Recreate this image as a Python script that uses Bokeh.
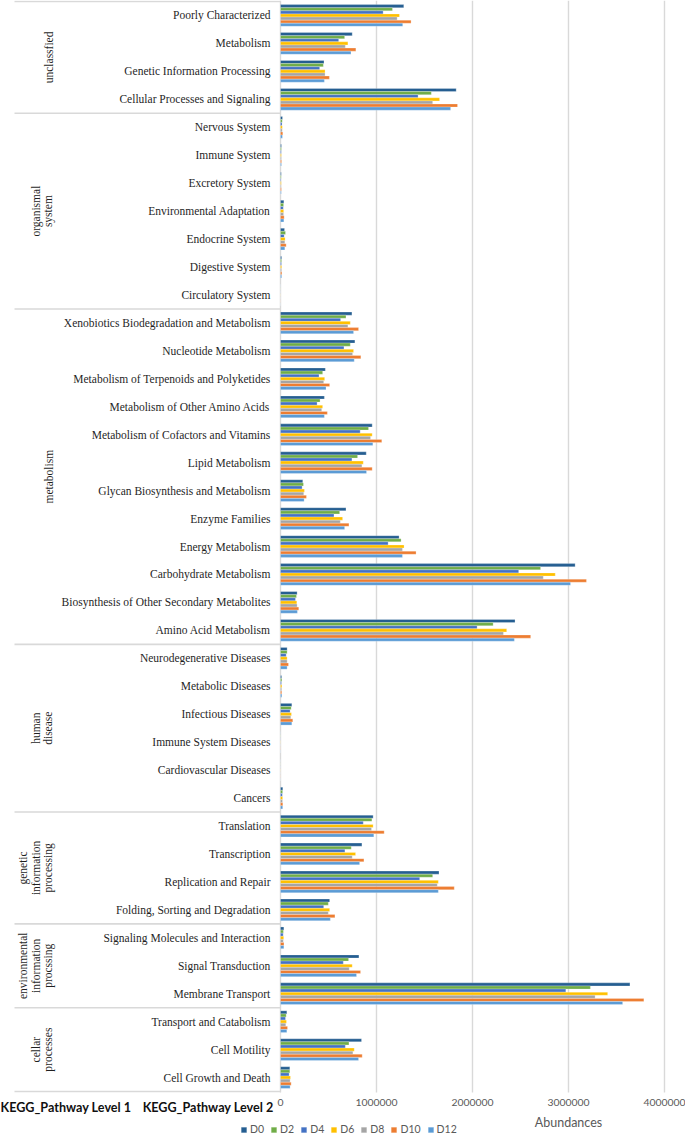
import math
from bokeh.plotting import figure
from bokeh.models import ColumnDataSource, Range1d, Legend, LegendItem
from bokeh.transform import dodge
from bokeh.core.properties import value
from bokeh.embed import file_html
from bokeh.resources import INLINE

# ---------------- data ----------------
level1 = ["unclassfied", "organismal\nsystem", "metabolism", "human\ndisease",
          "genetic\ninformation\nprocessing", "environmental\ninformation\nprocssing",
          "cellar\nprocesses"]
level1_sizes = [4, 7, 12, 6, 4, 3, 3]

categories = [
    "Poorly Characterized", "Metabolism", "Genetic Information Processing",
    "Cellular Processes and Signaling",
    "Nervous System", "Immune System", "Excretory System", "Environmental Adaptation",
    "Endocrine System", "Digestive System", "Circulatory System",
    "Xenobiotics Biodegradation and Metabolism", "Nucleotide Metabolism",
    "Metabolism of Terpenoids and Polyketides", "Metabolism of Other Amino Acids",
    "Metabolism of Cofactors and Vitamins", "Lipid Metabolism",
    "Glycan Biosynthesis and Metabolism", "Enzyme Families", "Energy Metabolism",
    "Carbohydrate Metabolism", "Biosynthesis of Other Secondary Metabolites",
    "Amino Acid Metabolism",
    "Neurodegenerative Diseases", "Metabolic Diseases", "Infectious Diseases",
    "Immune System Diseases", "Cardiovascular Diseases", "Cancers",
    "Translation", "Transcription", "Replication and Repair",
    "Folding, Sorting and Degradation",
    "Signaling Molecules and Interaction", "Signal Transduction", "Membrane Transport",
    "Transport and Catabolism", "Cell Motility", "Cell Growth and Death",
]

series_names = ["D0", "D2", "D4", "D6", "D8", "D10", "D12"]

D0 = [1284000, 747000, 453000, 1830000,
      21000, 10000, 8000, 35000, 42000, 12000, 1000,
      744000, 775000, 467000, 457000, 955000, 893000, 232000, 682000, 1235000, 3069000, 173000, 2443000,
      69000, 12000, 118000, 1500, 1000, 24000,
      965000, 848000, 1651000, 512000,
      35000, 817000, 3640000,
      66000, 844000, 97000]
D2 = [1166000, 668000, 446000, 1571000,
      18000, 9000, 7000, 32000, 52000, 11000, 1000,
      682000, 727000, 439000, 412000, 917000, 803000, 239000, 616000, 1256000, 2709000, 166000, 2215000,
      69000, 14000, 111000, 1500, 1000, 22000,
      952000, 737000, 1585000, 498000,
      30000, 709000, 3228000,
      59000, 713000, 97000]
D4 = [1069000, 606000, 408000, 1433000,
      16000, 8000, 6000, 29000, 38000, 10000, 1000,
      626000, 661000, 401000, 381000, 830000, 744000, 225000, 557000, 1121000, 2481000, 156000, 2048000,
      59000, 10000, 100000, 1500, 1000, 19000,
      862000, 671000, 1450000, 450000,
      28000, 654000, 2972000,
      52000, 675000, 90000]
D6 = [1239000, 702000, 464000, 1657000,
      19000, 9000, 8000, 33000, 48000, 12000, 1000,
      727000, 761000, 460000, 439000, 955000, 862000, 249000, 647000, 1287000, 2862000, 170000, 2356000,
      69000, 14000, 114000, 1500, 1000, 22000,
      965000, 782000, 1644000, 512000,
      33000, 747000, 3408000,
      62000, 768000, 104000]
D8 = [1215000, 675000, 464000, 1585000,
      18000, 9000, 7000, 32000, 45000, 11000, 1000,
      702000, 751000, 450000, 429000, 938000, 848000, 242000, 623000, 1270000, 2737000, 173000, 2322000,
      69000, 12000, 107000, 1500, 1000, 21000,
      948000, 747000, 1633000, 498000,
      29000, 716000, 3277000,
      55000, 754000, 100000]
D10 = [1360000, 785000, 509000, 1844000,
       24000, 11000, 9000, 38000, 59000, 14000, 1000,
       813000, 837000, 512000, 488000, 1055000, 955000, 270000, 713000, 1412000, 3187000, 190000, 2606000,
       83000, 13000, 128000, 1500, 1000, 24000,
       1080000, 869000, 1810000, 567000,
       36000, 834000, 3785000,
       73000, 851000, 111000]
D12 = [1273000, 734000, 457000, 1772000,
       20000, 10000, 8000, 35000, 45000, 12000, 1000,
       761000, 768000, 474000, 457000, 962000, 896000, 246000, 668000, 1270000, 3021000, 176000, 2436000,
       69000, 14000, 118000, 1500, 1000, 23000,
       972000, 824000, 1644000, 519000,
       35000, 792000, 3564000,
       66000, 813000, 100000]

x_ticks = [0, 1000000, 2000000, 3000000, 4000000]
tick_labels = ["0", "1000000", "2000000", "3000000", "4000000"]
axis_title = "Abundances"
level_titles = ["KEGG_Pathway Level 1", "KEGG_Pathway Level 2"]

# ---------------- style / layout ----------------
colors = ["#255E91", "#70AD47", "#4472C4", "#FFC000", "#A5A5A5", "#ED7D31", "#5B9BD5"]
FIG_W = 685
FIG_H = 1135
ZERO_PX = 280            # pixel position of x = 0
PX_PER_UNIT = 384 / 4e6  # pixels per abundance unit
ROW_PX = 27.95
TOP_PX = 1.0
x_start = -ZERO_PX / PX_PER_UNIT
x_end = (FIG_W - ZERO_PX) / PX_PER_UNIT
n = len(categories)
y_top = -0.5 - TOP_PX / ROW_PX
y_bottom = y_top + FIG_H / ROW_PX
bar_h = 0.111
SANS = "Lato"
SERIF = "Liberation Serif"

p = figure(frame_width=FIG_W, frame_height=FIG_H,
           x_range=Range1d(x_start, x_end), y_range=Range1d(y_bottom, y_top),
           output_backend="svg", toolbar_location=None,
           x_axis_location=None, y_axis_location=None,
           min_border_left=0, min_border_right=0, min_border_top=0, min_border_bottom=0,
           outline_line_color=None, background_fill_color="white")
p.grid.visible = False

series = dict(zip(series_names, [D0, D2, D4, D6, D8, D10, D12]))
src = ColumnDataSource(dict(idx=list(range(n)), cat=categories, **series))

# vertical grid lines (stop at the bottom of the category table)
row_end = n - 0.5
p.segment(x0=x_ticks, x1=x_ticks, y0=[y_top] * len(x_ticks), y1=[row_end + 0.03] * len(x_ticks),
          line_color="#d9d9d9", line_width=1.4)

renderers = []
for k, name in enumerate(series_names):
    r = p.hbar(y=dodge("idx", (k - 3) * bar_h, range=p.y_range), left=0, right=name,
               height=bar_h, fill_color=colors[k], line_color="white", line_alpha=0.5,
               line_width=0.5, source=src)
    renderers.append(r)

# level-2 labels
p.text(x=0, y="idx", text="cat", x_offset=-10, text_align="right", text_baseline="middle",
       text_font=value(SERIF), text_font_size="11.5px", text_color="#1f1f1f", source=src)

# level-1 labels and separators
starts = []
s = 0
for size in level1_sizes:
    starts.append(s)
    s += size
centers = [st + sz / 2 - 0.5 for st, sz in zip(starts, level1_sizes)]
gsrc = ColumnDataSource(dict(y=centers, t=level1, x=[0] * len(level1)))
p.text(x="x", y="y", text="t", x_offset=-226, angle=math.pi / 2, text_align="center",
       text_baseline="bottom", text_font=value(SERIF), text_font_size="11.5px",
       text_color="#1f1f1f", text_line_height=1.05, source=gsrc)

bounds = [st - 0.5 for st in starts] + [n - 0.5]
sep_x0 = -(ZERO_PX - 14) / PX_PER_UNIT
p.segment(x0=[sep_x0] * len(bounds), x1=[0] * len(bounds), y0=bounds, y1=bounds,
          line_color="#d9d9d9", line_width=1.6)

# x tick labels
tsrc = ColumnDataSource(dict(x=x_ticks, t=tick_labels, y=[row_end] * len(x_ticks)))
p.text(x="x", y="y", text="t", y_offset=11, text_align="center", text_baseline="middle",
       text_font=value(SANS), text_font_size="10.4px", text_color="#595959", source=tsrc)

# axis title
p.text(x=[x_ticks[3]], y=[row_end], text=[axis_title], y_offset=31, text_align="center",
       text_baseline="middle", text_font=value(SANS), text_font_size="12.5px",
       text_color="#595959")

# level titles
p.text(x=[0], y=[row_end], text=[level_titles[0]], x_offset=-280, y_offset=16,
       text_align="left", text_baseline="middle", text_font=value(SANS),
       text_font_style="bold", text_font_size="12.6px", text_color="#111111")
p.text(x=[0], y=[row_end], text=[level_titles[1]], x_offset=-7, y_offset=16,
       text_align="right", text_baseline="middle", text_font=value(SANS),
       text_font_style="bold", text_font_size="12.6px", text_color="#111111")

legend = Legend(items=[LegendItem(label=nm, renderers=[r]) for nm, r in zip(series_names, renderers)],
                orientation="horizontal", location=(240, 0), padding=0, margin=0,
                spacing=6, glyph_width=7, glyph_height=7, label_standoff=3, label_height=10,
                label_width=12,
                label_text_font=SANS, label_text_font_size="10.5px", label_text_color="#595959",
                border_line_color=None, background_fill_alpha=0)
p.add_layout(legend, "center")

open("out.html", "w").write(file_html(p, INLINE))
